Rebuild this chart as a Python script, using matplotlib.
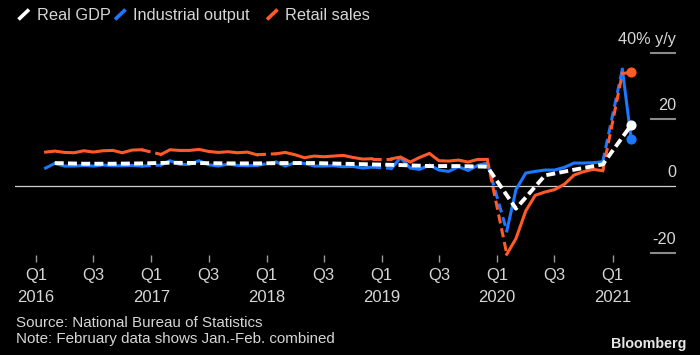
import matplotlib
matplotlib.use("Agg")
import matplotlib.pyplot as plt
from matplotlib import font_manager as fm
from matplotlib.lines import Line2D
import pandas as pd
import numpy as np

# ---------------- data ----------------
# Monthly y/y % (January folded into February: Jan.-Feb. combined)
ip = [5.4, 6.8, 6.0, 6.0, 6.2, 6.0, 6.3, 6.1, 6.1, 6.2, 6.0,
      6.3, 7.6, 6.5, 6.5, 7.6, 6.4, 6.0, 6.6, 6.2, 6.1, 6.2,
      7.2, 6.0, 7.0, 6.8, 6.0, 6.0, 6.1, 5.8, 5.9, 5.4, 5.7,
      5.3, 8.5, 5.4, 5.0, 6.3, 4.8, 4.4, 5.8, 4.7, 6.2, 6.9,
      -13.5, -1.1, 3.9, 4.4, 4.8, 4.8, 5.6, 6.9, 6.9, 7.0, 7.3,
      35.1, 14.1]
retail = [10.2, 10.5, 10.1, 10.0, 10.6, 10.2, 10.6, 10.7, 10.0, 10.8, 10.9,
          9.5, 10.9, 10.7, 10.7, 11.0, 10.4, 10.1, 10.3, 10.0, 10.2, 9.4,
          9.7, 10.1, 9.4, 8.5, 9.0, 8.8, 9.0, 9.2, 8.6, 8.1, 8.2,
          8.2, 8.7, 7.2, 8.6, 9.8, 7.6, 7.5, 7.8, 7.2, 8.0, 8.0,
          -20.5, -15.8, -7.5, -2.8, -1.8, -1.1, 0.5, 3.3, 4.3, 5.0, 4.6,
          33.8, 34.2]
# Quarterly real GDP y/y %
gdp = [6.9, 6.7, 6.7, 6.8,
       7.0, 6.9, 6.8, 6.8,
       6.9, 6.9, 6.7, 6.5,
       6.3, 6.0, 6.0, 5.8,
       -6.8, 3.2, 4.9, 6.5,
       18.3]

all_months = pd.date_range("2016-02-01", "2021-03-01", freq="MS")
months = all_months[all_months.month != 1]
quarters = pd.date_range("2016-03-01", "2021-03-01", freq="3MS")

tick_dates = pd.date_range("2016-01-01", "2021-01-01", freq="6MS")
tick_labels = ["Q1\n2016", "Q3", "Q1\n2017", "Q3", "Q1\n2018", "Q3",
               "Q1\n2019", "Q3", "Q1\n2020", "Q3", "Q1\n2021"]
y_levels = [40, 20, 0, -20]
y_labels = ["40% y/y", "20", "0", "-20"]

series_names = ["Real GDP", "Industrial output", "Retail sales"]

# ---------------- style ----------------
def has_font(name):
    try:
        fm.findfont(fm.FontProperties(family=name), fallback_to_default=False)
        return True
    except Exception:
        return False

REG = "Liberation Sans" if has_font("Liberation Sans") else "DejaVu Sans"
NARROW = "Liberation Sans Narrow" if has_font("Liberation Sans Narrow") else REG

BG = "#000000"
TXT = "#d6d6d6"
WHITE = "#ffffff"
BLUE = "#1b78ff"
ORANGE = "#ff5a28"
GRID = "#8a8a8a"

W, H = 700, 355
fig = plt.figure(figsize=(7.0, 3.55), dpi=100, facecolor=BG)

def fx(px):
    return px / W

def fy(py):
    return 1 - py / H

ax_left, ax_right, ax_top, ax_bottom = 15, 676, 30, 262
ax = fig.add_axes([fx(ax_left), fy(ax_bottom), (ax_right - ax_left) / W,
                   (ax_bottom - ax_top) / H])
ax.set_facecolor(BG)
for s in ax.spines.values():
    s.set_visible(False)

ax.set_xlim(pd.Timestamp("2015-10-27"), pd.Timestamp("2021-07-21"))
ax.set_ylim(-22.84, 46.9)

# zero line (full width) and short right-hand grid stubs
ax.axhline(0, color="#d0d0d0", lw=0.9, zorder=1)
for v in y_levels:
    if v != 0:
        ax.axhline(v, xmin=0.962, xmax=1.0, color=GRID, lw=1.5, zorder=1)
for v, lab in zip(y_levels, y_labels):
    ax.annotate(lab, xy=(1.0, v), xycoords=("axes fraction", "data"),
                xytext=(0, 6.5), textcoords="offset points",
                ha="right", va="baseline", color=TXT, fontsize=11.7,
                family=REG)

# monthly series: solid within a year, dashed across the Jan-Feb gap
def draw_monthly(values, color, z):
    vals = np.asarray(values, dtype=float)
    feb_idx = [i for i, d in enumerate(months) if d.month == 2]
    bounds = feb_idx + [len(months)]
    for a, b in zip(bounds[:-1], bounds[1:]):
        ax.plot(months[a:b], vals[a:b], color=color, lw=2.2,
                solid_joinstyle="miter", zorder=z, clip_on=False)
        if a > 0:
            ax.plot(months[a - 1:a + 1], vals[a - 1:a + 1], color=color,
                    lw=2.2, dashes=(3.0, 1.6), zorder=z, clip_on=False)
    ax.plot(months[-1:], vals[-1:], "o", color=color, ms=6.3, zorder=z + 0.5,
            clip_on=False)

draw_monthly(ip, BLUE, 3)
draw_monthly(retail, ORANGE, 4)

ax.plot(quarters, gdp, color=WHITE, lw=2.8, dashes=(2.3, 1.1),
        zorder=6, clip_on=False)
ax.plot(quarters[-1:], gdp[-1:], "o", color=WHITE, ms=6.3, zorder=6.5,
        clip_on=False)

# x ticks
ax.set_xticks(tick_dates)
ax.set_xticklabels(tick_labels, linespacing=1.6)
ax.tick_params(axis="x", direction="in", length=5, width=1, color="#9a9a9a",
               pad=4.5, labelsize=12, labelcolor=TXT)
for t in ax.get_xticklabels():
    t.set_family(NARROW)
ax.tick_params(axis="y", left=False, labelleft=False)

# legend (icons + labels)
legend_items = [(series_names[0], WHITE, 18.5, 37),
                (series_names[1], BLUE, 115, 133),
                (series_names[2], ORANGE, 267, 285)]
for name, col, ix, tx in legend_items:
    fig.add_artist(Line2D([fx(ix), fx(ix + 10.5)], [fy(19.5), fy(9.5)],
                          transform=fig.transFigure, color=col, lw=2.6,
                          solid_capstyle="butt"))
    fig.text(fx(tx), fy(20), name, color=TXT, fontsize=11.8, family=REG,
             ha="left", va="baseline")

# footer
fig.text(fx(16), fy(327), "Source: National Bureau of Statistics",
         color=TXT, fontsize=10.9, family=REG, ha="left", va="baseline")
fig.text(fx(16), fy(343.5), "Note: February data shows Jan.-Feb. combined",
         color=TXT, fontsize=10.9, family=REG, ha="left", va="baseline")
fig.text(fx(686), fy(348), "Bloomberg", color="#e6e6e6", fontsize=10.3,
         family=REG, fontweight="bold", ha="right", va="baseline")

fig.savefig("out.png", dpi=100, facecolor=BG)
